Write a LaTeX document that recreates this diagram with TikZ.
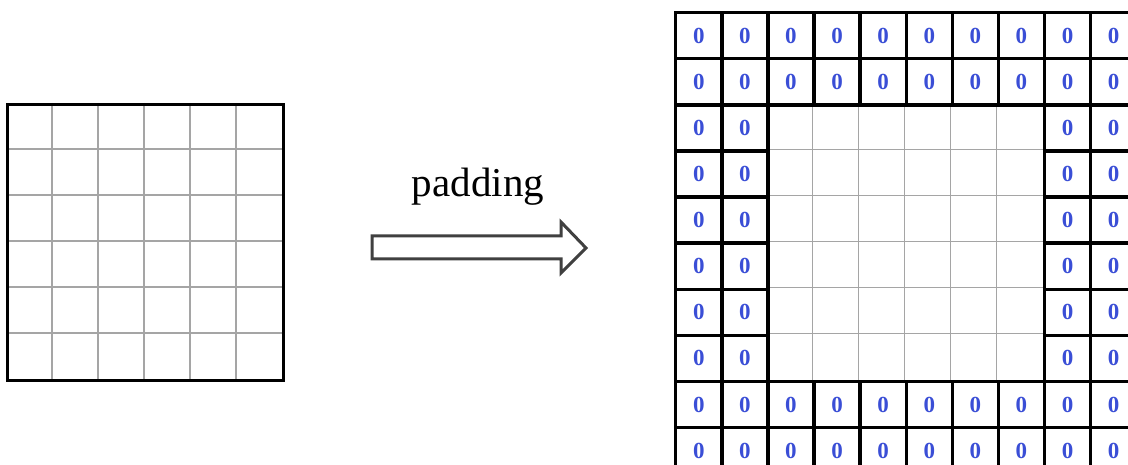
\documentclass[tikz,border=0pt]{standalone}
\usepackage{fontspec}
\setmainfont{Liberation Serif}
\definecolor{zeroblue}{RGB}{58,78,214}
\definecolor{arrowgray}{RGB}{64,64,64}
\definecolor{gridgray}{RGB}{165,165,165}
\begin{document}
\begin{tikzpicture}[x=1pt,y=-1pt,
  thinline/.style={draw=gridgray, line width=1.3pt},
  frame/.style={draw=black, line width=3.4pt},
  padcell/.style={draw=black, line width=3.4pt, rectangle,
    minimum size=46.1pt, inner sep=0pt, anchor=north west,
    font=\fontsize{23}{23}\selectfont\bfseries, text=zeroblue},
  blockarrow/.style={draw=arrowgray, fill=white, line width=3pt, line join=miter}
]
\clip (0,0) rectangle (1128,465);
\fill[white] (0,0) rectangle (1128,465);

% input feature map: 6x6 cells
\foreach \k in {1,...,5} {
  \draw[thinline] (6+46*\k,103) -- (6+46*\k,379);
  \draw[thinline] (6,103+46*\k) -- (282,103+46*\k);
}
\node[frame, rectangle, minimum width=276pt, minimum height=276pt,
      inner sep=0pt, anchor=north west] (input) at (6,103) {};

% label and block arrow
\node[anchor=base, font=\fontsize{41}{41}\selectfont] (label) at (478,197) {padding};
\draw[blockarrow] (372,236) -- (561,236) -- (561,222) -- (586,248)
  -- (561,273) -- (561,259) -- (372,259) -- cycle;

% padded map: 10x10 cells, 2-cell border of zeros
\def\xo{674}
\def\yo{11}
\def\cs{46.1}
\foreach \k in {3,...,7} {
  \draw[thinline] (\xo+\k*\cs,\yo+2*\cs) -- (\xo+\k*\cs,\yo+8*\cs);
  \draw[thinline] (\xo+2*\cs,\yo+\k*\cs) -- (\xo+8*\cs,\yo+\k*\cs);
}
\foreach \i in {0,...,9} {
  \foreach \j in {0,...,9} {
    \pgfmathtruncatemacro{\pad}{(\i<2)||(\i>7)||(\j<2)||(\j>7)}
    \ifnum\pad=1
      \node[padcell] (z-\i-\j) at (\xo+\j*\cs,\yo+\i*\cs) {0};
    \fi
  }
}
\end{tikzpicture}
\end{document}
